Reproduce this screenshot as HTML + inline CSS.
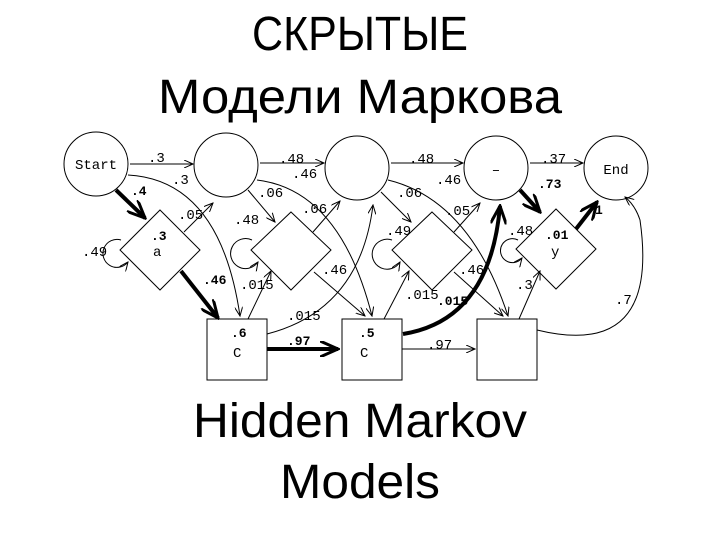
<!DOCTYPE html>
<html><head><meta charset="utf-8"><style>
html,body{margin:0;padding:0;background:#fff;}
svg{display:block}
.t{font-family:"Liberation Sans",sans-serif;fill:#000}
.m{font-family:"Liberation Mono",monospace;font-size:14px;fill:#000}
.b{font-family:"Liberation Mono",monospace;font-size:13px;font-weight:bold;fill:#000}
</style></head><body>
<svg width="720" height="540" viewBox="0 0 720 540" xmlns="http://www.w3.org/2000/svg">
<defs>
<marker id="a" markerWidth="10" markerHeight="8" refX="9" refY="4" orient="auto" markerUnits="userSpaceOnUse"><path d="M0,0 L9,4 L0,8" fill="none" stroke="#000" stroke-width="1"/></marker>
<marker id="ab" markerWidth="20" markerHeight="16" refX="18" refY="8" orient="auto" markerUnits="userSpaceOnUse"><path d="M0,0 L18,8 L0,16" fill="none" stroke="#000" stroke-width="3"/></marker>
</defs>
<text class="t" x="360" y="50" font-size="48" text-anchor="middle" textLength="216" lengthAdjust="spacingAndGlyphs">СКРЫТЫЕ</text>
<text class="t" x="360" y="113" font-size="48" text-anchor="middle" textLength="404" lengthAdjust="spacingAndGlyphs">Модели Маркова</text>
<text class="t" x="360" y="437" font-size="48" text-anchor="middle" textLength="334" lengthAdjust="spacingAndGlyphs">Hidden Markov</text>
<text class="t" x="360" y="498" font-size="48" text-anchor="middle" textLength="160" lengthAdjust="spacingAndGlyphs">Models</text>

<g fill="none" stroke="#000" stroke-width="1">
<circle cx="96" cy="164" r="32"/>
<circle cx="226" cy="165" r="32"/>
<circle cx="357" cy="168" r="32"/>
<circle cx="496" cy="168" r="32"/>
<circle cx="616" cy="168" r="32"/>
<path d="M160,210 L200,250 L160,290 L120,250 Z"/>
<path d="M291,212 L331,250 L291,290 L251,250 Z"/>
<path d="M432,212 L472,250 L432,290 L392,250 Z"/>
<path d="M556,209 L596,249 L556,289 L516,249 Z"/>
<rect x="207" y="319" width="60" height="61"/>
<rect x="342" y="319" width="60" height="61"/>
<rect x="477" y="319" width="60" height="61"/>
</g>
<text class="m" x="96" y="169" text-anchor="middle" font-size="15">Start</text>
<text class="m" x="616" y="174" text-anchor="middle" font-size="15">End</text>
<text class="m" x="496" y="174" text-anchor="middle" font-size="15">–</text>

<g fill="none" stroke="#000" stroke-width="1" marker-end="url(#a)">
<path d="M130,164 L193,164"/>
<path d="M260,163 L324,163"/>
<path d="M391,163 L463,163"/>
<path d="M530,163 L583,163"/>
<path d="M128,175 Q220,180 240,316"/>
<path d="M257,180 Q340,190 372,316"/>
<path d="M388,180 Q470,200 508,316"/>
<path d="M248,190 L275,222"/>
<path d="M381,192 L411,222"/>
<path d="M184,232 L213,203"/>
<path d="M313,232 L340,201"/>
<path d="M454,232 L480,203"/>
<path d="M314,272 L365,316"/>
<path d="M454,272 L503,316"/>
<path d="M248,319 L271,271"/>
<path d="M384,319 L409,271"/>
<path d="M519,319 L540,271"/>
<path d="M267,334 Q360,310 373,205"/>
<path d="M537,330 Q660,360 640,220 Q635,205 625,197"/>
<path d="M402,349 L475,349"/>
<path d="M121,240 A14,14 0 1 0 128,262"/>
<path d="M252,240 A15,15 0 1 0 258,262"/>
<path d="M392,240 A15,15 0 1 0 400,262"/>
<path d="M518,240 A12,12 0 1 0 522,258"/>
</g>
<g fill="none" stroke="#000" stroke-width="4" marker-end="url(#ab)">
<path d="M116,190 L145,218"/>
<path d="M181,271 L218,318"/>
<path d="M267,349 L338,349"/>
<path d="M403,334 Q490,320 500,206"/>
<path d="M520,190 L540,212"/>
<path d="M576,229 L597,202"/>
</g>
<text class="m" x="148" y="162">.3</text>
<text class="m" x="172" y="184">.3</text>
<text class="b" x="131" y="195">.4</text>
<text class="m" x="178" y="219">.05</text>
<text class="m" x="82" y="256">.49</text>
<text class="b" x="151" y="240">.3</text>
<text class="m" x="153" y="256" font-size="15">a</text>
<text class="b" x="203" y="284">.46</text>
<text class="m" x="240" y="289">.015</text>
<text class="m" x="279" y="163">.48</text>
<text class="m" x="292" y="178">.46</text>
<text class="m" x="258" y="197">.06</text>
<text class="m" x="234" y="224">.48</text>
<text class="m" x="302" y="213">.06</text>
<text class="m" x="322" y="274">.46</text>
<text class="m" x="287" y="320">.015</text>
<text class="b" x="231" y="337">.6</text>
<text class="m" x="233" y="357" font-size="15">C</text>
<text class="b" x="287" y="345">.97</text>
<text class="b" x="359" y="337">.5</text>
<text class="m" x="360" y="357" font-size="15">C</text>
<text class="m" x="409" y="163">.48</text>
<text class="m" x="436" y="184">.46</text>
<text class="m" x="397" y="197">.06</text>
<text class="m" x="386" y="235">.49</text>
<text class="m" x="445" y="215">.05</text>
<text class="m" x="459" y="274">.46</text>
<text class="m" x="405" y="299">.015</text>
<text class="b" x="437" y="305">.015</text>
<text class="m" x="427" y="349">.97</text>
<text class="m" x="541" y="163">.37</text>
<text class="b" x="538" y="188">.73</text>
<text class="b" x="595" y="214">1</text>
<text class="m" x="508" y="235">.48</text>
<text class="b" x="545" y="239">.01</text>
<text class="m" x="551" y="256" font-size="15">y</text>
<text class="m" x="516" y="289">.3</text>
<text class="m" x="615" y="304">.7</text>
</svg>
</body></html>
